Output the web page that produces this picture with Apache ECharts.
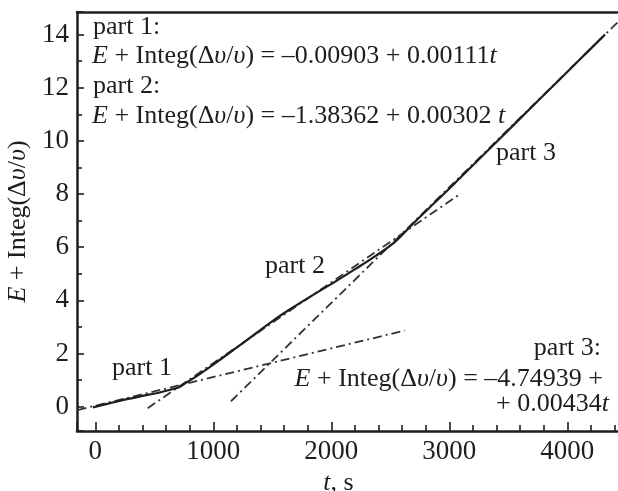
<!DOCTYPE html>
<html>
<head>
<meta charset="utf-8">
<script src="https://cdn.jsdelivr.net/npm/echarts@6/dist/echarts.min.js"></script>
<style>html,body{margin:0;padding:0;background:#fff;}#c{width:618px;height:491px;}</style>
</head>
<body>
<div id="c"></div>
<script>
// Measured curve E + Integ(Δυ/υ) vs t
const curveT = [-20, 100, 260, 400, 545, 650, 714, 764, 850, 1000, 1198, 1360, 1534, 1700, 1868, 2040, 2205, 2380, 2540, 2692, 2874, 3050, 3398, 3750, 4104, 4320];
const curveY = [-0.03, 0.1, 0.27, 0.4, 0.53, 0.65, 0.74, 0.88, 1.12, 1.58, 2.22, 2.75, 3.32, 3.8, 4.26, 4.72, 5.18, 5.68, 6.2, 6.88, 7.66, 8.42, 9.95, 11.5, 13.05, 14.0];
// Linear fit lines (endpoints)
const fit1T = [-150, 2622];
const fit1Y = [-0.13, 2.86];
const fit2T = [444, 3101];
const fit2Y = [-0.06, 8.03];
const fit3T = [1150, 4447];
const fit3Y = [0.2, 14.55];
// Axis ranges
const xMin = -155, xMax = 4447;
const yMin = -0.92, yMax = 14.85;

const zip = (a, b) => a.map((v, i) => [v, b[i]]);
const FF = '"Liberation Serif", "Times New Roman", serif';
const ink = '#1e1e1e';
const rich = {
  i: { fontFamily: FF, fontSize: 26, fontStyle: 'italic', fill: ink }
};
function txt(text, x, y, align) {
  return {
    type: 'text',
    x: x, y: y,
    style: {
      text: text,
      fill: ink,
      font: '26px ' + FF,
      textAlign: align || 'left',
      textVerticalAlign: 'middle',
      rich: rich
    },
    z: 10
  };
}

const chart = echarts.init(document.getElementById('c'));
const dashDot = [9, 4, 2, 4];
chart.setOption({
  animation: false,
  backgroundColor: '#fff',
  grid: { left: 77, top: 12, right: -2, bottom: 60, containLabel: false, outerBoundsMode: 'none' },
  xAxis: [{
    type: 'value', min: xMin, max: xMax, splitNumber: 5,
    name: '{i|t}, s', nameLocation: 'middle', nameGap: 29,
    nameTextStyle: { fontFamily: FF, fontSize: 26, color: ink, padding: [0, 20, 0, 0], rich: { i: { fontFamily: FF, fontSize: 26, fontStyle: 'italic', color: ink } } },
    axisLine: { show: true, onZero: false, lineStyle: { color: ink, width: 2.5 } },
    axisTick: { show: true, inside: true, length: 9, lineStyle: { color: ink, width: 1.6 } },
    minorTick: { show: true, splitNumber: 5, length: 6, lineStyle: { color: ink, width: 1.6 } },
    axisLabel: { fontFamily: FF, fontSize: 27, color: ink, margin: 7,
      formatter: v => (Math.abs(v % 1000) < 1e-6 ? String(v) : '') },
    splitLine: { show: false }
  }, {
    type: 'value', min: xMin, max: xMax, position: 'top',
    axisLine: { show: true, onZero: false, lineStyle: { color: ink, width: 2.5 } },
    axisTick: { show: false }, axisLabel: { show: false }, splitLine: { show: false }
  }],
  yAxis: {
    type: 'value', min: yMin, max: yMax, splitNumber: 8,
    name: '{i|E} + Integ(Δ{i|υ}/{i|υ})', nameLocation: 'middle', nameGap: 41,
    nameTextStyle: { fontFamily: FF, fontSize: 26, color: ink, rich: { i: { fontFamily: FF, fontSize: 26, fontStyle: 'italic', color: ink } } },
    axisLine: { show: true, onZero: false, lineStyle: { color: ink, width: 2.5 } },
    axisTick: { show: true, inside: true, length: 7, lineStyle: { color: ink, width: 1.6 } },
    minorTick: { show: true, splitNumber: 2, length: 5, lineStyle: { color: ink, width: 1.6 } },
    axisLabel: { fontFamily: FF, fontSize: 27, color: ink, margin: 8,
      formatter: v => (Math.abs(v % 2) < 1e-6 ? String(v) : '') },
    splitLine: { show: false }
  },
  series: [
    { type: 'line', data: zip(fit1T, fit1Y), showSymbol: false, lineStyle: { color: '#333', width: 1.8, type: dashDot } },
    { type: 'line', data: zip(fit2T, fit2Y), showSymbol: false, lineStyle: { color: '#333', width: 1.8, type: dashDot } },
    { type: 'line', data: zip(fit3T, fit3Y), showSymbol: false, lineStyle: { color: '#333', width: 1.8, type: dashDot } },
    { type: 'line', data: zip(curveT, curveY), showSymbol: false, smooth: 0.3, lineStyle: { color: ink, width: 2.2 } }
  ],
  graphic: [
    txt('part 1:', 93, 27),
    txt('{i|E} + Integ(Δ{i|υ}/{i|υ}) = –0.00903 + 0.00111{i|t}', 92, 56),
    txt('part 2:', 93, 86),
    txt('{i|E} + Integ(Δ{i|υ}/{i|υ}) = –1.38362 + 0.00302 {i|t}', 92, 116),
    txt('part 3', 496, 153),
    txt('part 2', 265, 266),
    txt('part 1', 112, 368),
    txt('part 3:', 601, 348, 'right'),
    txt('{i|E} + Integ(Δ{i|υ}/{i|υ}) = –4.74939 +', 603, 379, 'right'),
    txt('+ 0.00434{i|t}', 609, 404, 'right')
  ]
});
</script>
</body>
</html>
